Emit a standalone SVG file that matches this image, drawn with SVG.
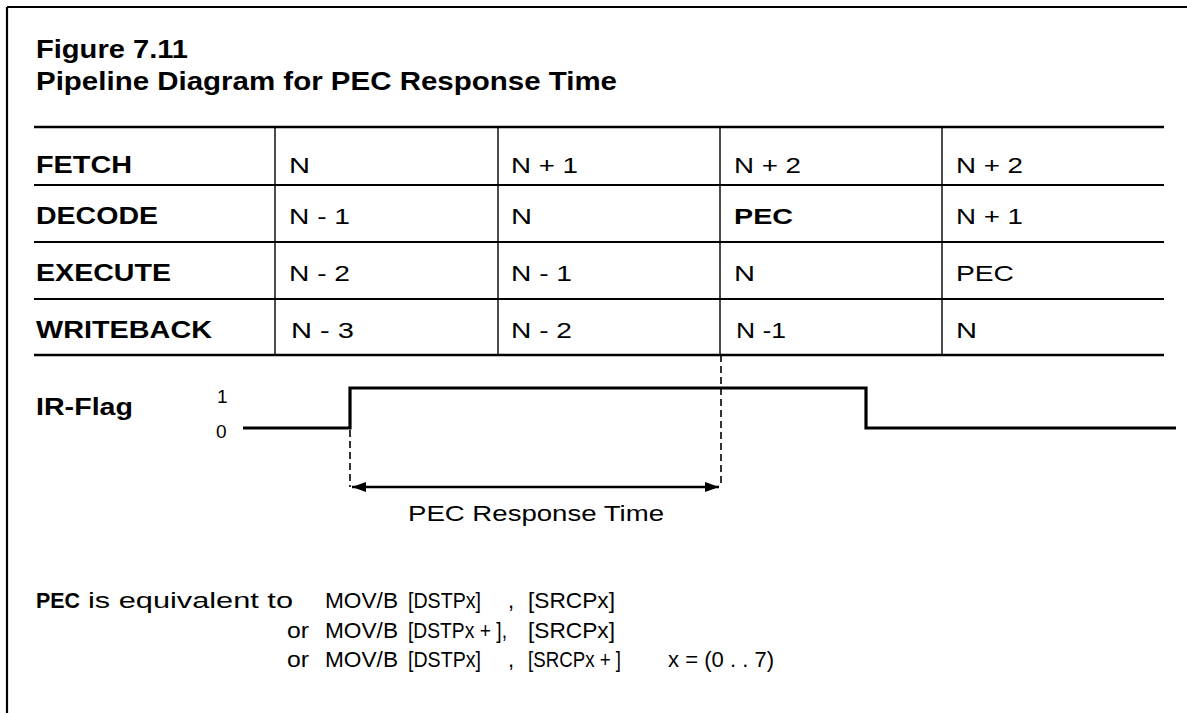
<svg xmlns="http://www.w3.org/2000/svg" width="1187" height="713" viewBox="0 0 1187 713">
<style>
  .t { font-family: "Liberation Sans", Arial, sans-serif; fill: #000; }
  .b { font-weight: bold; }
  .title { font-size: 25.5px; }
  .hdr { font-size: 23px; }
  .cell { font-size: 22px; }
  .note { font-size: 22px; }
  .lvl { font-size: 19px; }
  .rule { stroke: #000; fill: none; }
  .thick { stroke-width: 2.6; }
  .mid { stroke-width: 2.2; }
  .thin { stroke-width: 1.4; }
  .sig { stroke: #000; stroke-width: 3.2; fill: none; stroke-linejoin: miter; }
  .dash { stroke: #000; stroke-width: 1.6; stroke-dasharray: 7 4; fill: none; }
</style>
<defs>
  <marker id="ah" viewBox="0 0 14 10" refX="14" refY="5" markerWidth="14" markerHeight="10" markerUnits="userSpaceOnUse" orient="auto-start-reverse">
    <path d="M0,0 L14,5 L0,10 Z" fill="#000"/>
  </marker>
</defs>
<rect width="1187" height="713" fill="#fff"/>
<g id="frame">
  <path class="rule mid" d="M7,7 H1187 M7,7 V713"/>
</g>
<g id="title">
  <text class="t b title" x="36" y="58" textLength="152" lengthAdjust="spacingAndGlyphs">Figure 7.11</text>
  <text class="t b title" x="36" y="90" textLength="581" lengthAdjust="spacingAndGlyphs">Pipeline Diagram for PEC Response Time</text>
</g>
<g id="table">
  <path class="rule thick" d="M34,127 H1164 M34,355 H1164"/>
  <path class="rule mid" d="M34,185 H1164 M34,242 H1164 M34,299 H1164"/>
  <path class="rule thin" d="M275,127 V355 M498,127 V355 M720,127 V355 M942,127 V355"/>
  <g id="row-fetch">
    <text class="t b hdr" x="36" y="173" textLength="96" lengthAdjust="spacingAndGlyphs">FETCH</text>
    <text class="t cell" x="289" y="173" textLength="21" lengthAdjust="spacingAndGlyphs">N</text>
    <text class="t cell" x="511" y="173" textLength="67" lengthAdjust="spacingAndGlyphs">N + 1</text>
    <text class="t cell" x="734" y="173" textLength="67" lengthAdjust="spacingAndGlyphs">N + 2</text>
    <text class="t cell" x="956" y="173" textLength="67" lengthAdjust="spacingAndGlyphs">N + 2</text>
  </g>
  <g id="row-decode">
    <text class="t b hdr" x="36" y="224" textLength="122" lengthAdjust="spacingAndGlyphs">DECODE</text>
    <text class="t cell" x="289" y="224" textLength="61" lengthAdjust="spacingAndGlyphs">N - 1</text>
    <text class="t cell" x="511" y="224" textLength="21" lengthAdjust="spacingAndGlyphs">N</text>
    <text class="t cell b" x="734" y="224" textLength="59" lengthAdjust="spacingAndGlyphs">PEC</text>
    <text class="t cell" x="956" y="224" textLength="67" lengthAdjust="spacingAndGlyphs">N + 1</text>
  </g>
  <g id="row-execute">
    <text class="t b hdr" x="36" y="281" textLength="135" lengthAdjust="spacingAndGlyphs">EXECUTE</text>
    <text class="t cell" x="289" y="281" textLength="61" lengthAdjust="spacingAndGlyphs">N - 2</text>
    <text class="t cell" x="511" y="281" textLength="61" lengthAdjust="spacingAndGlyphs">N - 1</text>
    <text class="t cell" x="734" y="281" textLength="21" lengthAdjust="spacingAndGlyphs">N</text>
    <text class="t cell" x="956" y="281" textLength="58" lengthAdjust="spacingAndGlyphs">PEC</text>
  </g>
  <g id="row-writeback">
    <text class="t b hdr" x="36" y="338" textLength="176" lengthAdjust="spacingAndGlyphs">WRITEBACK</text>
    <text class="t cell" x="291" y="338" textLength="63" lengthAdjust="spacingAndGlyphs">N - 3</text>
    <text class="t cell" x="511" y="338" textLength="61" lengthAdjust="spacingAndGlyphs">N - 2</text>
    <text class="t cell" x="736" y="338" textLength="50" lengthAdjust="spacingAndGlyphs">N -1</text>
    <text class="t cell" x="956" y="338" textLength="21" lengthAdjust="spacingAndGlyphs">N</text>
  </g>
</g>
<g id="ir-flag">
  <text class="t b hdr" x="36" y="415" textLength="97" lengthAdjust="spacingAndGlyphs">IR-Flag</text>
  <text class="t lvl" x="217" y="403">1</text>
  <text class="t lvl" x="216" y="438">0</text>
  <path class="sig" d="M243,428 H350 V388 H866 V428 H1176"/>
</g>
<g id="connectors">
  <path class="dash" d="M350,430 V487"/>
  <path class="dash" d="M721,355 V487"/>
  <line x1="352" y1="487" x2="719" y2="487" stroke="#000" stroke-width="2.4" marker-start="url(#ah)" marker-end="url(#ah)"/>
  <text class="t cell" x="408" y="521" textLength="256" lengthAdjust="spacingAndGlyphs">PEC Response Time</text>
</g>
<g id="note">
  <text class="t note b" x="36" y="608" textLength="44" lengthAdjust="spacingAndGlyphs">PEC</text>
  <text class="t note" x="88" y="608" textLength="205" lengthAdjust="spacingAndGlyphs">is equivalent to</text>
  <text class="t note" x="325" y="608" textLength="73" lengthAdjust="spacingAndGlyphs">MOV/B</text>
  <text class="t note" x="408" y="608" textLength="73" lengthAdjust="spacingAndGlyphs">[DSTPx]</text>
  <text class="t note" x="508" y="608">,</text>
  <text class="t note" x="528" y="608" textLength="87" lengthAdjust="spacingAndGlyphs">[SRCPx]</text>

  <text class="t note" x="287" y="638" textLength="22" lengthAdjust="spacingAndGlyphs">or</text>
  <text class="t note" x="325" y="638" textLength="73" lengthAdjust="spacingAndGlyphs">MOV/B</text>
  <text class="t note" x="408" y="638" textLength="99" lengthAdjust="spacingAndGlyphs">[DSTPx + ],</text>
  <text class="t note" x="528" y="638" textLength="87" lengthAdjust="spacingAndGlyphs">[SRCPx]</text>

  <text class="t note" x="287" y="667" textLength="22" lengthAdjust="spacingAndGlyphs">or</text>
  <text class="t note" x="325" y="667" textLength="73" lengthAdjust="spacingAndGlyphs">MOV/B</text>
  <text class="t note" x="408" y="667" textLength="73" lengthAdjust="spacingAndGlyphs">[DSTPx]</text>
  <text class="t note" x="508" y="667">,</text>
  <text class="t note" x="528" y="667" textLength="93" lengthAdjust="spacingAndGlyphs">[SRCPx + ]</text>
  <text class="t note" x="668" y="667" textLength="106" lengthAdjust="spacingAndGlyphs">x = (0 . . 7)</text>
</g>
</svg>
